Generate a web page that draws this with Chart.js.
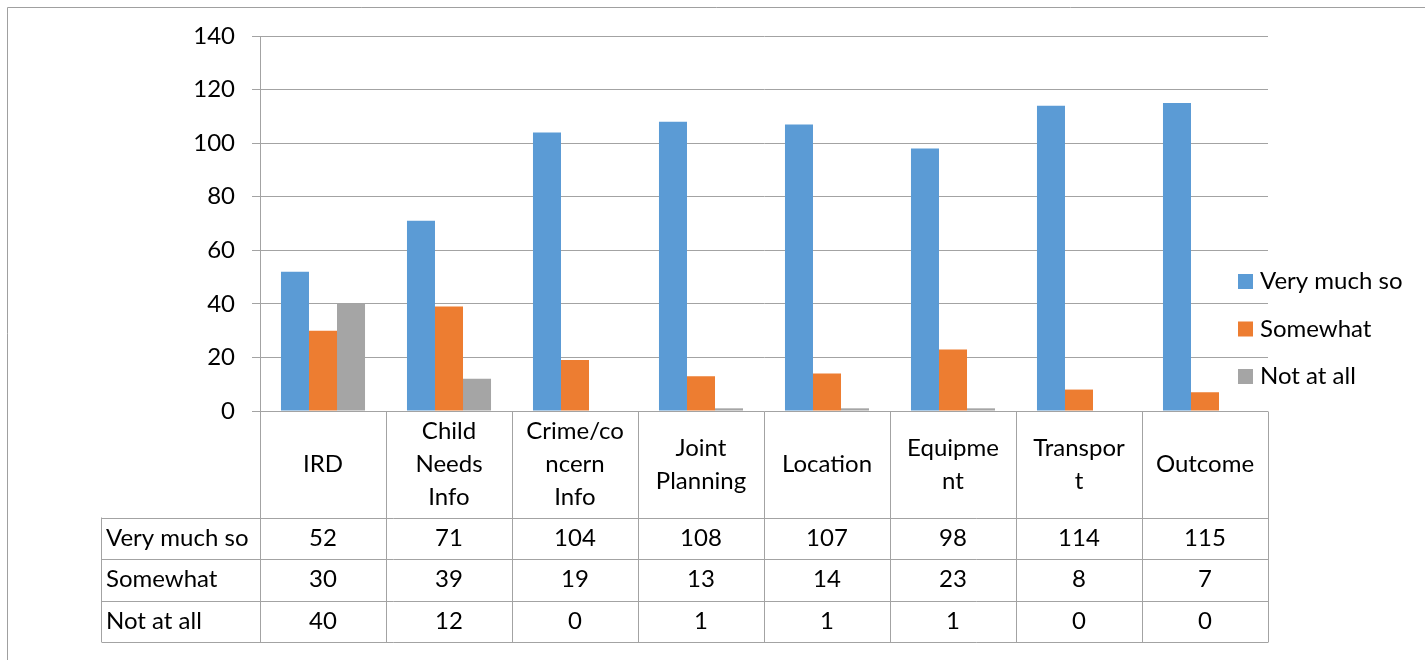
<!DOCTYPE html>
<html>
<head>
<meta charset="utf-8">
<script src="https://cdn.jsdelivr.net/npm/chart.js@4.4.1/dist/chart.umd.min.js"></script>
<style>
  html, body { margin: 0; padding: 0; background: #fff; }
  #wrap { width: 1425px; height: 660px; position: relative; }
</style>
</head>
<body>
<div id="wrap"><canvas id="myChart" width="1425" height="660"></canvas></div>
<script>
// categories as they wrap in the data table header
const categories = [
    ['IRD'],
    ['Child', 'Needs', 'Info'],
    ['Crime/co', 'ncern', 'Info'],
    ['Joint', 'Planning'],
    ['Location'],
    ['Equipme', 'nt'],
    ['Transpor', 't'],
    ['Outcome']
];
const seriesNames = ['Very much so', 'Somewhat', 'Not at all'];
const veryMuchSo = [52, 71, 104, 108, 107, 98, 114, 115];
const somewhat = [30, 39, 19, 13, 14, 23, 8, 7];
const notAtAll = [40, 12, 0, 1, 1, 1, 0, 0];
const yTicks = [0, 20, 40, 60, 80, 100, 120, 140];

const colors = ['#5b9bd5', '#ed7d31', '#a5a5a5'];
const lineColor = '#a3a3a3';
const font = 'Lato';
const fontSize = 24;

// data table drawn under the plot, columns taken from the x scale
const tablePlugin = {
    id: 'dataTable',
    afterDraw(c) {
        const ctx = c.ctx;
        const x = c.scales.x;
        const y = c.scales.y;
        const top = Math.round(y.getPixelForValue(0)) + 0.5;
        const headerBottom = 517.5;
        const rowH = 41.5;
        const tableLeft = 101.5;
        const right = Math.round(c.chartArea.right) + 0.5;
        const half = (c.chartArea.right - c.chartArea.left) / categories.length / 2;
        const rows = [veryMuchSo, somewhat, notAtAll];
        const bottom = headerBottom + rowH * rows.length;

        ctx.save();
        ctx.strokeStyle = lineColor;
        ctx.lineWidth = 1;
        ctx.beginPath();
        // vertical lines
        for (let i = 0; i <= categories.length; i++) {
            const px = Math.round(i < categories.length ? x.getPixelForValue(i) - half : x.getPixelForValue(i - 1) + half) + 0.5;
            ctx.moveTo(px, top);
            ctx.lineTo(px, bottom);
        }
        ctx.moveTo(tableLeft, headerBottom);
        ctx.lineTo(tableLeft, bottom);
        // horizontal lines
        for (let r = 0; r <= rows.length; r++) {
            const py = Math.round(headerBottom + r * rowH) + 0.5;
            ctx.moveTo(tableLeft, py);
            ctx.lineTo(right, py);
        }
        ctx.stroke();

        ctx.fillStyle = '#000';
        ctx.font = fontSize + 'px ' + font;
        ctx.textBaseline = 'middle';
        ctx.textAlign = 'center';
        const lineH = 33;
        categories.forEach((lines, i) => {
            const cx = x.getPixelForValue(i);
            const mid = (top + headerBottom) / 2;
            lines.forEach((t, k) => {
                ctx.fillText(t, cx, mid + (k - (lines.length - 1) / 2) * lineH);
            });
        });
        rows.forEach((vals, r) => {
            const cy = headerBottom + r * rowH + rowH / 2;
            vals.forEach((v, i) => ctx.fillText(String(v), x.getPixelForValue(i), cy));
        });
        ctx.textAlign = 'left';
        seriesNames.forEach((n, r) => {
            ctx.fillText(n, 106, headerBottom + r * rowH + rowH / 2);
        });

        // legend
        const legendY = [281.5, 329, 376.5];
        seriesNames.forEach((n, r) => {
            ctx.fillStyle = colors[r];
            ctx.fillRect(1238, legendY[r] - 7.5, 15, 15);
            ctx.fillStyle = '#000';
            ctx.fillText(n, 1260, legendY[r]);
        });

        // outer frame
        ctx.strokeStyle = '#a0a0a0';
        ctx.beginPath();
        ctx.moveTo(7.5, 660);
        ctx.lineTo(7.5, 7.5);
        ctx.lineTo(1425, 7.5);
        ctx.stroke();
        ctx.restore();
    }
};

const ctx = document.getElementById('myChart');
const chart = new Chart(ctx, {
    type: 'bar',
    data: {
        labels: categories,
        datasets: [veryMuchSo, somewhat, notAtAll].map((d, i) => ({
            label: seriesNames[i],
            data: d,
            backgroundColor: colors[i],
            borderWidth: 0,
            barPercentage: 1,
            categoryPercentage: 0.667
        }))
    },
    options: {
        responsive: false,
        animation: false,
        layout: { padding: { left: 0, right: 157, top: 36, bottom: 249 } },
        plugins: {
            legend: { display: false },
            tooltip: { enabled: false }
        },
        scales: {
            x: { display: false },
            y: {
                min: 0,
                max: 140,
                afterFit: s => { s.width = 260; },
                afterBuildTicks: s => { s.ticks = yTicks.map(v => ({ value: v })); },
                ticks: {
                    color: '#000',
                    padding: 17,
                    font: { family: font, size: fontSize }
                },
                grid: { color: lineColor, tickLength: 8 },
                border: { color: lineColor }
            }
        }
    },
    plugins: [tablePlugin]
});
</script>
</body>
</html>
